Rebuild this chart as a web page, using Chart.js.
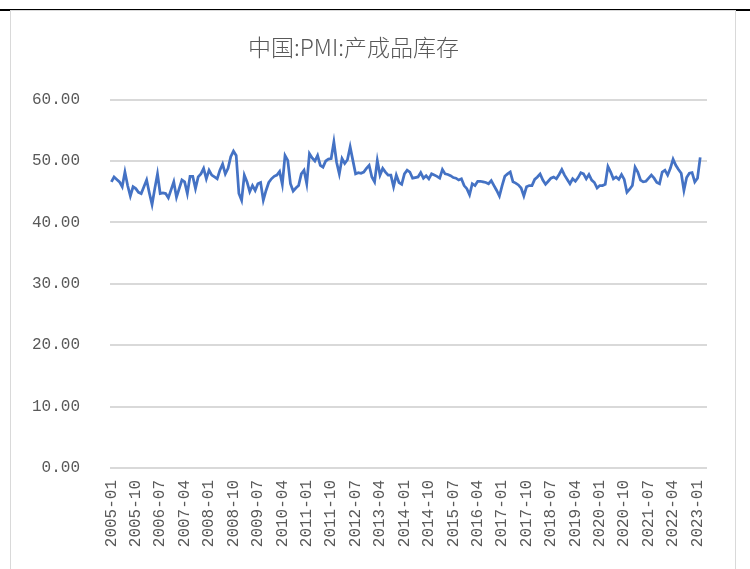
<!DOCTYPE html>
<html>
<head>
<meta charset="utf-8">
<script src="https://cdn.jsdelivr.net/npm/chart.js@4.4.1/dist/chart.umd.min.js"></script>
<style>
  html, body { margin: 0; padding: 0; background: #fff; }
  #wrap { position: relative; width: 750px; height: 569px; overflow: hidden; }
  #topline { position: absolute; left: 0; top: 9px; width: 750px; height: 2px; background: #000; }
  #frame { position: absolute; left: 10px; top: 10px; width: 724px; height: 580px;
           border: 1px solid #d9d9d9; background: #fff; }
  #c { position: absolute; left: 0; top: 0; }
</style>
</head>
<body>
<div id="wrap">
  <div id="topline"></div>
  <div id="frame"></div>
  <canvas id="c" width="750" height="569"></canvas>
</div>
<script>
// monthly categories 2005-01 .. 2023-04 (last two are empty on the axis)
const startYear = 2005;
const monthCount = 220;
const months = [];
for (let i = 0; i < monthCount; i++) {
  const y = startYear + Math.floor(i / 12);
  const m = (i % 12) + 1;
  months.push(y + "-" + (m < 10 ? "0" + m : m));
}

// 中国:PMI:产成品库存, 2005-01 .. 2023-02
const inventory = [
  46.6, 47.4, 47.0, 46.6, 45.8, 48.2, 46.0, 44.3, 45.8, 45.5, 44.9, 44.7,
  45.8, 46.9, 44.8, 42.9, 45.5, 47.9, 44.7, 44.8, 44.7, 44.0, 45.3, 46.6,
  44.1, 45.5, 46.9, 46.6, 44.7, 47.5, 47.5, 45.5, 47.4, 47.9, 48.8, 47.1,
  48.5, 47.7, 47.4, 47.1, 48.5, 49.5, 47.9, 48.8, 50.7, 51.6, 50.9, 44.7,
  43.6, 47.7, 46.6, 45.0, 46.0, 45.2, 46.3, 46.5, 43.6, 45.2, 46.5, 47.1,
  47.5, 47.7, 48.3, 46.2, 50.9, 50.1, 46.3, 45.1, 45.6, 46.0, 47.9, 48.5,
  46.3, 51.2, 50.5, 50.0, 50.9, 49.3, 49.0, 50.0, 50.3, 50.4, 53.1, 49.8,
  47.9, 50.4, 49.6, 50.2, 52.3, 50.1, 47.9, 48.1, 48.0, 48.2, 48.8, 49.3,
  47.4, 46.6, 50.1, 47.7, 48.8, 48.2, 47.7, 47.7, 45.8, 47.7, 46.5, 46.2,
  47.9, 48.5, 48.2, 47.2, 47.3, 47.4, 48.1, 47.2, 47.6, 47.1, 47.9, 47.7,
  47.5, 47.2, 48.6, 47.9, 47.8, 47.6, 47.3, 47.2, 46.9, 47.1, 46.0, 45.5,
  44.5, 46.3, 46.0, 46.7, 46.7, 46.6, 46.5, 46.3, 46.8, 46.0, 45.2, 44.3,
  46.0, 47.5, 47.9, 48.2, 46.6, 46.4, 46.1, 45.6, 44.3, 45.8, 46.0, 46.0,
  47.0, 47.4, 47.9, 46.9, 46.2, 46.7, 47.2, 47.4, 47.1, 47.8, 48.6, 47.7,
  47.0, 46.3, 47.1, 46.7, 47.3, 48.1, 47.9, 47.1, 47.8, 46.9, 46.5, 45.6,
  46.0, 46.0, 46.2, 49.1, 48.2, 47.1, 47.4, 47.0, 47.8, 47.0, 44.9, 45.4,
  46.0, 49.0, 48.2, 46.9, 46.6, 46.7, 47.2, 47.7, 47.2, 46.5, 46.3, 48.2,
  48.5, 47.7, 48.8, 50.3, 49.3, 48.6, 48.0, 45.2, 47.3, 48.0, 48.1, 46.6,
  47.2, 50.6
];

const labelEvery = 9;
const textColor = "#595959";
const gridColor = "#d9d9d9";

new Chart(document.getElementById("c"), {
  type: "line",
  data: {
    labels: months,
    datasets: [{
      label: "中国:PMI:产成品库存",
      data: inventory,
      borderColor: "#4472c4",
      borderWidth: 2.75,
      pointRadius: 0,
      tension: 0,
      fill: false,
    }],
  },
  options: {
    responsive: false,
    animation: false,
    layout: { padding: { left: 0, right: 43, top: 0, bottom: 0 } },
    plugins: {
      legend: { display: false },
      tooltip: { enabled: false },
      title: {
        display: true,
        text: "中国:PMI:产成品库存",
        color: textColor,
        font: { family: "'Noto Sans CJK SC'", size: 23, weight: 300 },
        padding: { top: 33, bottom: 39 },
      },
    },
    scales: {
      x: {
        type: "category",
        offset: true,
        grid: { display: false },
        border: { display: false },
        ticks: {
          autoSkip: false,
          maxRotation: 90,
          minRotation: 90,
          padding: 4,
          color: textColor,
          font: { family: "'Liberation Mono'", size: 16 },
          callback: function (val, idx) {
            return idx % labelEvery === 0 ? this.getLabelForValue(val) : null;
          },
        },
        afterFit: (scale) => { scale.height = 101; },
      },
      y: {
        min: 0,
        max: 60,
        grid: { color: gridColor, lineWidth: 2, drawTicks: true, tickLength: 0, tickColor: "rgba(0,0,0,0)" },
        border: { display: false },
        ticks: {
          stepSize: 10,
          padding: 30,
          color: textColor,
          font: { family: "'Liberation Mono'", size: 16 },
          callback: (v) => v.toFixed(2),
        },
        afterFit: (scale) => { scale.width = 110; },
      },
    },
  },
});
</script>
</body>
</html>
